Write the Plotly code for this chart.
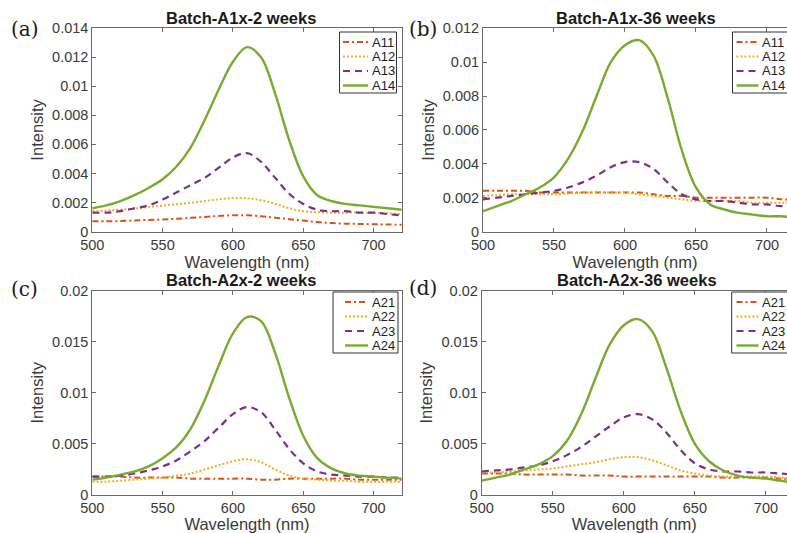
import plotly.graph_objects as go

# ---------------- data ----------------
wavelength = list(range(500, 721, 10))

# Batch-A1x, 2 weeks
a1_2w_A11 = [0.0007, 0.0007, 0.00072, 0.00076, 0.0008, 0.00083, 0.00088, 0.00094, 0.001, 0.00107, 0.00112, 0.00112,
             0.00105, 0.00095, 0.00085, 0.00075, 0.00065, 0.00058, 0.00054, 0.00052, 0.0005, 0.00048, 0.00046]
a1_2w_A12 = [0.0014, 0.00145, 0.0015, 0.00158, 0.00168, 0.00178, 0.00188, 0.00198, 0.0021, 0.00222, 0.0023, 0.0023,
             0.00215, 0.0019, 0.0016, 0.0014, 0.00133, 0.0013, 0.0013, 0.0013, 0.00128, 0.00125, 0.0012]
a1_2w_A13 = [0.0013, 0.0013, 0.0014, 0.0016, 0.0018, 0.0022, 0.0027, 0.0032, 0.0037, 0.0044, 0.0051, 0.0054,
             0.0048, 0.0037, 0.0026, 0.0019, 0.0015, 0.0014, 0.0014, 0.0013, 0.0013, 0.0012, 0.0011]
a1_2w_A14 = [0.0016, 0.0018, 0.0021, 0.0025, 0.0030, 0.0036, 0.0045, 0.0058, 0.0077, 0.0098, 0.0117, 0.0127,
             0.0120, 0.0095, 0.0063, 0.0038, 0.0025, 0.0021, 0.0019, 0.0018, 0.0017, 0.0016, 0.0015]

# Batch-A1x, 36 weeks
a1_36w_A11 = [0.0024, 0.0024, 0.0024, 0.0024, 0.0023, 0.0023, 0.0023, 0.0023, 0.0023, 0.0023, 0.0023, 0.0023,
              0.0022, 0.0021, 0.0021, 0.0020, 0.0020, 0.0020, 0.0020, 0.0020, 0.0020, 0.0019, 0.0019]
a1_36w_A12 = [0.0021, 0.00215, 0.0022, 0.0022, 0.0022, 0.0022, 0.00225, 0.0023, 0.0023, 0.0023, 0.0023, 0.0022,
              0.0021, 0.0020, 0.0019, 0.0018, 0.0018, 0.0018, 0.0018, 0.0017, 0.0017, 0.0017, 0.0017]
a1_36w_A13 = [0.0019, 0.0020, 0.0021, 0.0022, 0.0023, 0.0024, 0.0026, 0.0029, 0.0033, 0.0038, 0.0041, 0.0041,
              0.0037, 0.0029, 0.0022, 0.0019, 0.0018, 0.0018, 0.0017, 0.0016, 0.0016, 0.0015, 0.0015]
a1_36w_A14 = [0.0012, 0.0015, 0.0018, 0.0022, 0.0026, 0.0032, 0.0043, 0.0059, 0.0080, 0.0100, 0.0110, 0.0113,
              0.0104, 0.0079, 0.0048, 0.0026, 0.0016, 0.0013, 0.0011, 0.0010, 0.0009, 0.0009, 0.0008]

# Batch-A2x, 2 weeks
a2_2w_A21 = [0.0018, 0.0018, 0.0018, 0.0017, 0.0017, 0.0017, 0.0017, 0.0016, 0.0016, 0.0016, 0.0016, 0.0016,
             0.0015, 0.0015, 0.0016, 0.0016, 0.0016, 0.0016, 0.0016, 0.0015, 0.0015, 0.0015, 0.0015]
a2_2w_A22 = [0.0013, 0.0013, 0.0014, 0.0015, 0.0016, 0.0017, 0.0019, 0.0021, 0.0025, 0.0029, 0.0033, 0.0035,
             0.0032, 0.0025, 0.0019, 0.0016, 0.0015, 0.0014, 0.0014, 0.0013, 0.0013, 0.0013, 0.0013]
a2_2w_A23 = [0.0018, 0.0018, 0.0019, 0.0021, 0.0024, 0.0028, 0.0034, 0.0043, 0.0053, 0.0066, 0.0079, 0.0086,
             0.0081, 0.0064, 0.0045, 0.0031, 0.0023, 0.0020, 0.0019, 0.0018, 0.0018, 0.0017, 0.0017]
a2_2w_A24 = [0.0015, 0.0017, 0.0020, 0.0023, 0.0028, 0.0036, 0.0047, 0.0065, 0.0093, 0.0127, 0.0158, 0.0174,
             0.0170, 0.0139, 0.0095, 0.0058, 0.0036, 0.0026, 0.0021, 0.0019, 0.0018, 0.0017, 0.0016]

# Batch-A2x, 36 weeks
a2_36w_A21 = [0.0021, 0.0021, 0.0021, 0.0020, 0.0020, 0.0020, 0.0020, 0.0019, 0.0019, 0.0019, 0.0018, 0.0018,
              0.0018, 0.0018, 0.0018, 0.0018, 0.0018, 0.0017, 0.0017, 0.0017, 0.0017, 0.0016, 0.0016]
a2_36w_A22 = [0.0022, 0.0022, 0.0023, 0.0024, 0.0025, 0.0026, 0.0028, 0.0030, 0.0032, 0.0035, 0.0037, 0.0037,
              0.0034, 0.0029, 0.0024, 0.0021, 0.0019, 0.0018, 0.0018, 0.0018, 0.0018, 0.0017, 0.0017]
a2_36w_A23 = [0.0023, 0.0024, 0.0025, 0.0027, 0.0029, 0.0033, 0.0039, 0.0047, 0.0057, 0.0067, 0.0076, 0.0079,
              0.0074, 0.0061, 0.0044, 0.0031, 0.0025, 0.0023, 0.0023, 0.0022, 0.0022, 0.0021, 0.0020]
a2_36w_A24 = [0.0014, 0.0017, 0.0020, 0.0025, 0.0030, 0.0038, 0.0053, 0.0079, 0.0114, 0.0147, 0.0166, 0.0172,
              0.0160, 0.0124, 0.0082, 0.0050, 0.0033, 0.0024, 0.0019, 0.0017, 0.0016, 0.0014, 0.0012]

titles = ["Batch-A1x-2 weeks", "Batch-A1x-36 weeks", "Batch-A2x-2 weeks", "Batch-A2x-36 weeks"]
panel_labels = ["(a)", "(b)", "(c)", "(d)"]
names_1 = ["A11", "A12", "A13", "A14"]
names_2 = ["A21", "A22", "A23", "A24"]

x_ticks = [500, 550, 600, 650, 700]
y_ticks_a = [0, 0.002, 0.004, 0.006, 0.008, 0.010, 0.012, 0.014]
y_text_a = ["0", "0.002", "0.004", "0.006", "0.008", "0.01", "0.012", "0.014"]
y_ticks_b = [0, 0.002, 0.004, 0.006, 0.008, 0.010, 0.012]
y_text_b = ["0", "0.002", "0.004", "0.006", "0.008", "0.01", "0.012"]
y_ticks_cd = [0, 0.005, 0.010, 0.015, 0.020]
y_text_cd = ["0", "0.005", "0.01", "0.015", "0.02"]

# ---------------- styling ----------------
W, H = 787, 533
colors = ["#D95319", "#EDB120", "#7E2F8E", "#77AC30"]
dashes = ["6px,3px,2px,3px", "2px,2px", "7px,5px", "solid"]
widths = [2, 2, 2.2, 2.4]
FONT = "Liberation Sans, Arial, sans-serif"
TICKC = "#3a3a3a"
LINEC = "#6a6a6a"


def px_x(p):
    return p / W


def px_y(p):
    return 1 - p / H


panels = [
    dict(series=[a1_2w_A11, a1_2w_A12, a1_2w_A13, a1_2w_A14], names=names_1,
         xdom=[px_x(92.3), px_x(401.7)], ydom=[px_y(231.5), px_y(28.3)], xr=[500, 720],
         yr=[0, 0.014], yt=y_ticks_a, ytt=y_text_a, right=False),
    dict(series=[a1_36w_A11, a1_36w_A12, a1_36w_A13, a1_36w_A14], names=names_1,
         xdom=[px_x(483.0), 1.0], ydom=[px_y(231.5), px_y(28.3)], xr=[500, 714.1],
         yr=[0, 0.012], yt=y_ticks_b, ytt=y_text_b, right=True),
    dict(series=[a2_2w_A21, a2_2w_A22, a2_2w_A23, a2_2w_A24], names=names_2,
         xdom=[px_x(92.3), px_x(401.7)], ydom=[px_y(495), px_y(290.5)], xr=[500, 720],
         yr=[0, 0.02], yt=y_ticks_cd, ytt=y_text_cd, right=False),
    dict(series=[a2_36w_A21, a2_36w_A22, a2_36w_A23, a2_36w_A24], names=names_2,
         xdom=[px_x(481.7), 1.0], ydom=[px_y(495), px_y(290.5)], xr=[500, 714.8],
         yr=[0, 0.02], yt=y_ticks_cd, ytt=y_text_cd, right=True),
]

# legend boxes (pixel geometry): box left, box top, box right, key-line start, key-line end, text x
legend_geom = [
    (339.5, 32.0, 396.5, 343.0, 368.0, 369.5),
    (732.5, 32.0, 800.0, 736.5, 758.5, 759.5),
    (333.0, 292.0, 398.0, 345.0, 368.0, 369.5),
    (731.7, 292.0, 800.0, 736.5, 758.5, 759.5),
]
legend_row_offsets = [10.0, 24.5, 39.0, 53.5]
legend_height = 61.0
title_pos = [(241, 18), (636, 18), (241, 280), (637, 280)]
label_pos = [(25, 29), (423, 29), (24, 289), (423, 288)]

fig = go.Figure()
annotations = []
shapes = []
layout = dict(
    width=W, height=H,
    margin=dict(l=0, r=0, t=0, b=0, autoexpand=False),
    paper_bgcolor="white", plot_bgcolor="white",
    font=dict(family=FONT, color=TICKC),
    showlegend=False,
)

for i, p in enumerate(panels):
    k = "" if i == 0 else str(i + 1)
    for j in range(4):
        fig.add_trace(go.Scatter(
            x=wavelength, y=p["series"][j], name=p["names"][j], mode="lines",
            line=dict(color=colors[j], dash=dashes[j], width=widths[j], shape="spline", smoothing=1.0),
            xaxis="x" + k, yaxis="y" + k, showlegend=False,
        ))
    layout["xaxis" + k] = dict(
        domain=p["xdom"], range=p["xr"], anchor="y" + k,
        tickvals=x_ticks, ticks="inside", ticklen=4, tickcolor=LINEC,
        showline=True, linecolor=LINEC, linewidth=1, mirror="ticks",
        showgrid=False, zeroline=False,
        tickfont=dict(size=14.5, color=TICKC, family=FONT),
        title=dict(text="Wavelength (nm)", font=dict(size=16.5, color=TICKC, family=FONT), standoff=0),
    )
    layout["yaxis" + k] = dict(
        domain=p["ydom"], range=p["yr"], anchor="x" + k,
        tickvals=p["yt"], ticktext=p["ytt"], ticks="inside", ticklen=4, tickcolor=LINEC,
        showline=True, linecolor=LINEC, linewidth=1, mirror=False if p["right"] else "ticks",
        showgrid=False, zeroline=False,
        tickfont=dict(size=14.5, color=TICKC, family=FONT),
        title=dict(text="Intensity", font=dict(size=16.5, color=TICKC, family=FONT), standoff=4),
    )

    # legend (box, key lines, labels)
    bl, bt, br, l0, l1, tx = legend_geom[i]
    shapes.append(dict(type="rect", xref="paper", yref="paper",
                       x0=px_x(bl), x1=px_x(br), y0=px_y(bt + legend_height), y1=px_y(bt),
                       line=dict(color="#333", width=1), fillcolor="white", layer="above"))
    for j in range(4):
        yy = bt + legend_row_offsets[j]
        shapes.append(dict(type="line", xref="paper", yref="paper",
                           x0=px_x(l0), x1=px_x(l1), y0=px_y(yy), y1=px_y(yy),
                           line=dict(color=colors[j], width=widths[j], dash=dashes[j]), layer="above"))
        annotations.append(dict(text=p["names"][j], x=px_x(tx), y=px_y(yy), xref="paper", yref="paper",
                                xanchor="left", yanchor="middle", showarrow=False,
                                font=dict(size=13, color="#222", family=FONT)))

    ttx, tty = title_pos[i]
    annotations.append(dict(
        text="<b>" + titles[i] + "</b>", x=px_x(ttx), y=px_y(tty), xref="paper", yref="paper",
        xanchor="center", yanchor="middle", showarrow=False,
        font=dict(size=16.5, color="#1a1a1a", family=FONT),
    ))
    qx, qy = label_pos[i]
    annotations.append(dict(
        text=panel_labels[i], x=px_x(qx), y=px_y(qy), xref="paper", yref="paper",
        xanchor="center", yanchor="middle", showarrow=False,
        font=dict(size=20, color="#1a1a1a", family="DejaVu Serif, Liberation Serif, serif"),
    ))

layout["annotations"] = annotations
layout["shapes"] = shapes
fig.update_layout(**layout)
fig.write_html("out.html", config={"displayModeBar": False},
               post_script="document.body.style.margin='0';document.body.style.overflow='hidden';")
